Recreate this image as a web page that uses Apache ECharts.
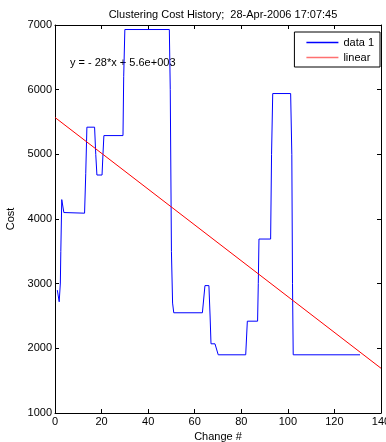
<!DOCTYPE html>
<html>
<head>
<meta charset="utf-8">
<script src="https://cdn.jsdelivr.net/npm/echarts@6/dist/echarts.min.js"></script>
<style>html,body{margin:0;padding:0;background:#fff}#c{width:386px;height:442px}</style>
</head>
<body>
<div id="c"></div>
<script>
var titleText = 'Clustering Cost History;  28-Apr-2006 17:07:45';
var xLabel = 'Change #';
var yLabel = 'Cost';
var fitText = 'y = - 28*x + 5.6e+003';
var seriesNames = ['data 1', 'linear'];
var changeX = [1, 1.8, 2.3, 2.5, 2.9, 3.3, 3.8, 4.4, 12.7, 13.2, 13.7, 17, 17.5, 18, 20.2, 20.6, 21, 29.2, 29.5, 30, 49.1, 49.5, 50, 50.5, 51, 63.3, 64.4, 66.1, 66.6, 67, 68.7, 70.1, 81.9, 82.6, 87, 87.3, 87.6, 92.6, 93, 93.5, 101.2, 101.7, 102, 102.3, 131];
var costY = [2900, 2720, 3010, 3500, 4300, 4280, 4100, 4090, 4090, 4700, 5420, 5420, 5000, 4680, 4680, 5000, 5290, 5290, 6200, 6930, 6930, 6000, 3500, 2700, 2550, 2550, 2970, 2970, 2500, 2070, 2070, 1900, 1900, 2420, 2420, 3000, 3690, 3690, 5000, 5940, 5940, 5000, 3000, 1900, 1900];
var linearX = [0, 140];
var linearY = [5570, 1692];

var font = 'Liberation Sans, Arial, sans-serif';
var chart = echarts.init(document.getElementById('c'));
var axCommon = {
  axisLine: {show: true, onZero: false, lineStyle: {color: '#000', width: 1}},
  axisTick: {show: true, inside: true, length: 4, lineStyle: {color: '#000'}},
  splitLine: {show: false}
};
function plain(v) { return String(v); }
chart.setOption({
  backgroundColor: '#fff',
  animation: false,
  title: {text: titleText, left: 218, top: 4, textAlign: 'center',
    textStyle: {fontFamily: font, fontSize: 11, fontWeight: 'normal', color: '#000'}},
  grid: {left: 55, right: 5, top: 25, bottom: 29, containLabel: false, outerBoundsMode: 'none'},
  legend: {
    right: 6, top: 32, orient: 'vertical', itemWidth: 32, itemHeight: 8, itemGap: 4,
    backgroundColor: '#fff', borderColor: '#000', borderWidth: 1, padding: [5, 6, 4, 12],
    textStyle: {fontFamily: font, fontSize: 11, color: '#000', width: 40, align: 'right'},
    data: [
      {name: seriesNames[0], icon: 'path://M0,3.5L32,3.5L32,5L0,5Z',
        itemStyle: {color: '#0000ff', borderWidth: 0}, lineStyle: {color: '#0000ff', width: 0}},
      {name: seriesNames[1], icon: 'path://M0,3.5L32,3.5L32,5L0,5Z',
        itemStyle: {color: '#ff7070', borderWidth: 0}, lineStyle: {color: '#ff7070', width: 0}}
    ]
  },
  xAxis: [
    Object.assign({type: 'value', min: 0, max: 140, interval: 20, position: 'bottom',
      name: xLabel, nameLocation: 'middle', nameGap: 17,
      nameTextStyle: {fontFamily: font, fontSize: 11, color: '#000'},
      axisLabel: {fontFamily: font, fontSize: 11, color: '#000', margin: 3, formatter: plain}}, axCommon),
    Object.assign({type: 'value', min: 0, max: 140, interval: 20, position: 'top',
      axisLabel: {show: false}}, axCommon)
  ],
  yAxis: [
    Object.assign({type: 'value', min: 1000, max: 7000, interval: 1000, position: 'left',
      name: yLabel, nameLocation: 'middle', nameGap: 37, nameRotate: 90,
      nameTextStyle: {fontFamily: font, fontSize: 11, color: '#000'},
      axisLabel: {fontFamily: font, fontSize: 11, color: '#000', margin: 3, formatter: plain}}, axCommon),
    Object.assign({type: 'value', min: 1000, max: 7000, interval: 1000, position: 'right',
      axisLabel: {show: false}}, axCommon)
  ],
  series: [
    {name: seriesNames[0], type: 'line', showSymbol: false, symbol: 'none', color: '#0000ff',
      lineStyle: {color: '#0000ff', width: 1}, itemStyle: {color: '#0000ff'},
      data: changeX.map(function (x, i) { return [x, costY[i]]; })},
    {name: seriesNames[1], type: 'line', showSymbol: false, symbol: 'none', color: '#ff7070',
      lineStyle: {color: '#ff0000', width: 1}, itemStyle: {color: '#ff7070'},
      data: linearX.map(function (x, i) { return [x, linearY[i]]; })}
  ],
  graphic: [{type: 'text', left: 70, top: 57,
    style: {text: fitText, fontFamily: font, fontSize: 11, fill: '#000'}}]
});
</script>
</body>
</html>
